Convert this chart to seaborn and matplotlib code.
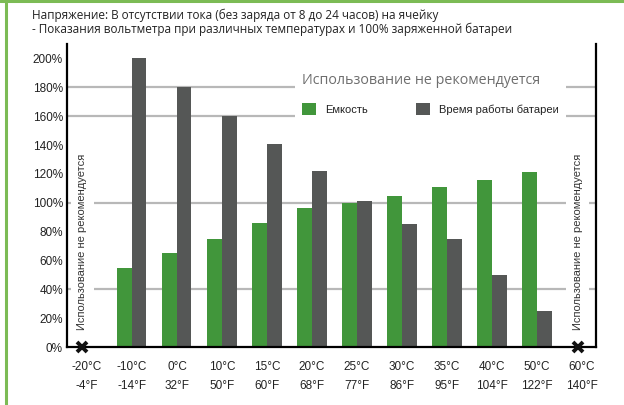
import matplotlib
matplotlib.use("Agg")
import matplotlib.pyplot as plt
import seaborn as sns
import pandas as pd
import numpy as np
from matplotlib.lines import Line2D

# ---- data ----
categories = ["-20°C\n-4°F", "-10°C\n-14°F", "0°C\n32°F", "10°C\n50°F", "15°C\n60°F",
              "20°C\n68°F", "25°C\n77°F", "30°C\n86°F", "35°C\n95°F", "40°C\n104°F",
              "50°C\n122°F", "60°C\n140°F"]
capacity = [np.nan, 55, 65, 75, 86, 96, 100, 105, 111, 116, 121, np.nan]
runtime = [np.nan, 200, 180, 160, 141, 122, 101, 85, 75, 50, 25, np.nan]
series_names = ["Емкость", "Время работы батареи"]
not_recommended_idx = [0, 11]
yticks = list(range(0, 201, 20))
grid_levels = [40, 100, 160, 180]

title_text = ("Напряжение: В отсутствии тока (без заряда от 8 до 24 часов) на ячейку\n"
              "- Показания вольтметра при различных температурах и 100% заряженной батареи")
not_rec_text = "Использование не рекомендуется"

df = pd.DataFrame({
    "cat": categories * 2,
    "value": capacity + runtime,
    "series": [series_names[0]] * len(categories) + [series_names[1]] * len(categories),
})

sns.set_theme(style="white")
plt.rcParams["font.family"] = ["Liberation Sans", "DejaVu Sans"]

fig = plt.figure(figsize=(6.24, 4.05), dpi=100)
ax = fig.add_axes([67 / 624, 1 - 347 / 405, (596 - 67) / 624, (347 - 44) / 405])

green = "#41963b"
gray = "#555756"

sns.barplot(data=df, x="cat", y="value", hue="series", order=categories,
            hue_order=series_names, palette=[green, gray], saturation=1,
            width=0.645, linewidth=0, ax=ax, zorder=2)

for g in grid_levels:
    ax.axhline(g, color="#b8b8b8", lw=1.6, zorder=1)

ax.set_xlim(-0.444, 11.311)
ax.set_ylim(0, 210)
ax.set_yticks(yticks)
ax.set_yticklabels([f"{v}%" for v in yticks], fontsize=8.5, color="#222222")
ax.set_xticks(range(len(categories)))
ax.set_xticklabels(categories, fontsize=8.5, color="#222222", linespacing=1.75)
ax.tick_params(axis="both", length=0)
ax.tick_params(axis="y", pad=3)
ax.tick_params(axis="x", pad=10)
ax.set_xlabel("")
ax.set_ylabel("")

for side in ["left", "right", "bottom"]:
    ax.spines[side].set_visible(True)
    ax.spines[side].set_color("black")
    ax.spines[side].set_linewidth(1.6)
    ax.spines[side].set_zorder(4)
ax.spines["top"].set_visible(False)

# not-recommended markers and vertical notes
for i in not_recommended_idx:
    ax.plot([i - 0.1], [0], marker="x", color="#111111", markersize=7.5, mew=2.8,
            clip_on=False, zorder=6)
    ax.text(i - 0.1, 11.5, not_rec_text, rotation=90, ha="center", va="bottom",
            fontsize=8, color="#333333", zorder=3,
            bbox=dict(facecolor="white", edgecolor="none", pad=5))

# legend
handles, labels = ax.get_legend_handles_labels()
leg = ax.legend(handles, labels, ncol=2, title=not_rec_text,
                loc="upper left", bbox_to_anchor=(289 / 624, 1 - 60 / 405),
                bbox_transform=fig.transFigure,
                fontsize=8, title_fontsize=10.3, frameon=True, fancybox=False,
                framealpha=1, facecolor="white", edgecolor="none",
                handlelength=1.3, handleheight=1.3, handletextpad=0.8,
                columnspacing=4.3, labelspacing=1.4, borderpad=0.65,
                alignment="left")
leg.get_title().set_color("#6e6e6e")
leg.get_title().set_family(["Open Sans", "DejaVu Sans"])
leg.set_zorder(3)
for t in leg.get_texts():
    t.set_color("#222222")

# title text (single multi-line text)
fig.text(32 / 624, 1 - 9 / 405, title_text, ha="left", va="top", fontsize=8.5,
         color="#222222", family=["Open Sans", "DejaVu Sans"], linespacing=1.02)

# green frame lines
fig.add_artist(Line2D([0, 1], [1 - 1.2 / 405] * 2, transform=fig.transFigure,
                      color="#7cbb55", lw=2.2))
fig.add_artist(Line2D([6 / 624] * 2, [0, 1], transform=fig.transFigure,
                      color="#7cbb55", lw=2.2))

fig.savefig("out.png", dpi=100)
